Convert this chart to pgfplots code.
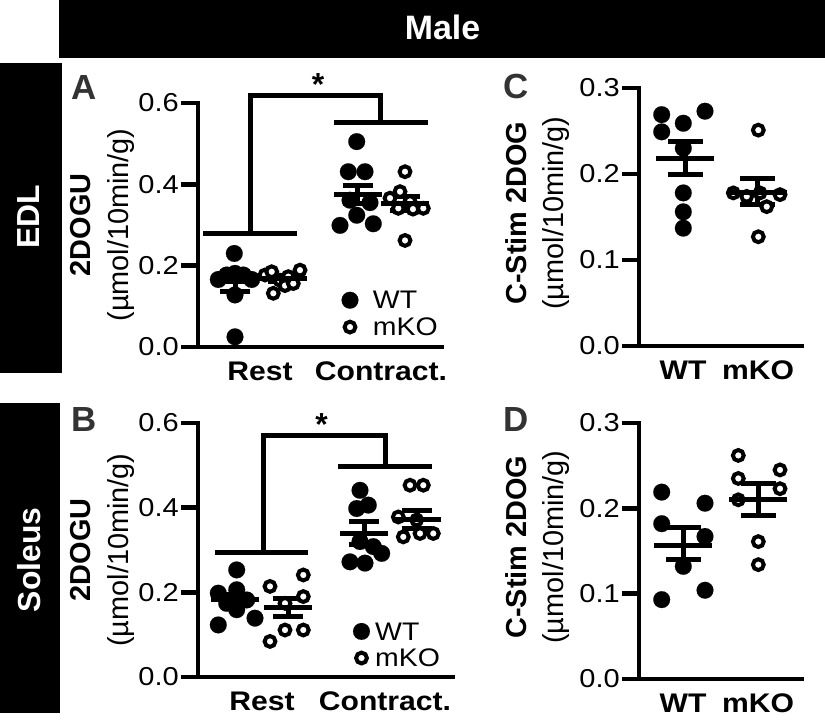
\documentclass[border=0pt]{standalone}
\usepackage{pgfplots}
\pgfplotsset{compat=1.18}
\usepackage{pgfplotstable}
\usepackage{fontspec}
\setmainfont{Liberation Sans}
\newfontfamily\panelfont{Liberation Sans}[FakeStretch=1.12]
\newfontfamily\labelfont{Liberation Sans}
\definecolor{lettergray}{HTML}{333333}

\newcommand{\tickfont}{\panelfont\fontsize{26}{26}\selectfont}
\newcommand{\catfont}{\panelfont\bfseries\fontsize{27}{27}\selectfont}
\newcommand{\labfont}{\labelfont\fontsize{29}{38}\selectfont}
\newcommand{\legfont}{\panelfont\fontsize{25.5}{25.5}\selectfont}

% ---------------- Panel A (EDL) ----------------
\pgfplotstableread{
x y
20.3 0.166
28.7 0.177
37 0.181
45.3 0.177
53.7 0.166
36.3 0.230
37 0.128
37 0.025
158.7 0.505
150.3 0.431
167 0.431
152 0.361
172 0.355
158.7 0.324
142 0.299
175.3 0.303
}\Awt
\pgfplotstableread{
x y
67 0.177
73.7 0.185
82 0.164
90.3 0.173
102 0.189
75.3 0.132
87 0.151
95.3 0.156
207 0.431
202 0.382
192 0.366
212 0.358
200.3 0.341
215 0.339
225.3 0.341
207 0.262
}\Ako
\pgfplotstableread{
x m p n
37 0.161 0.024 0.024
85 0.168 0.008 0.008
159.5 0.374 0.023 0.021
207 0.352 0.017 0.017
}\Asum
% ---------------- Panel B (Soleus) ----------------
\pgfplotstableread{
x y
38.7 0.253
20.3 0.198
38.7 0.206
28.7 0.174
48.7 0.182
38.7 0.159
20.3 0.123
57 0.139
162 0.441
170.3 0.406
158.7 0.398
162 0.320
152 0.272
167 0.269
183.7 0.292
175.3 0.308
}\Bwt
\pgfplotstableread{
x y
72 0.214
105.3 0.241
105.3 0.190
87 0.174
72 0.084
87 0.111
105.3 0.111
212 0.453
225.3 0.453
200.3 0.378
218.7 0.371
205.3 0.331
222 0.339
235.3 0.339
}\Bko
\pgfplotstableread{
x m p n
37 0.182 0.012 0.012
90 0.163 0.023 0.020
166 0.339 0.028 0.027
219 0.373 0.021 0.022
}\Bsum
% ---------------- Panel C ----------------
\pgfplotstableread{
x y
22.7 0.269
22.7 0.249
44.3 0.259
66 0.273
44.3 0.230
44.3 0.178
44.3 0.156
44.3 0.137
}\Cwt
\pgfplotstableread{
x y
119.3 0.251
94.3 0.178
107.7 0.174
121 0.178
141 0.176
127.7 0.162
119.3 0.127
}\Cko
\pgfplotstableread{
x m p n
46 0.218 0.020 0.019
118.5 0.178 0.017 0.014
}\Csum
% ---------------- Panel D ----------------
\pgfplotstableread{
x y
22.7 0.219
22.7 0.182
66 0.206
66 0.167
44.3 0.132
66 0.104
22.7 0.093
}\Dwt
\pgfplotstableread{
x y
99.3 0.262
99.3 0.235
141 0.245
141 0.223
99.3 0.210
119.3 0.161
119.3 0.134
}\Dko
\pgfplotstableread{
x m p n
44 0.157 0.021 0.017
119 0.210 0.019 0.018
}\Dsum

\pgfplotsset{
  panel/.style={
    scale only axis, anchor=south west, clip=false,
    axis x line=bottom, axis y line=left,
    axis line style={line width=4.8bp, line cap=rect, -},
    x axis line style={-}, y axis line style={-},
    tick align=outside, major tick length=17bp,
    xtick style={draw=none},
    ytick style={line width=4.8bp, black},
    yticklabel style={font=\tickfont, inner sep=2bp},
    xticklabel style={font=\catfont, yshift=6bp},
    ylabel style={font=\labfont, align=center, anchor=center},
  },
  wt/.style={only marks, mark=*, mark size=8.4bp, black,
    mark options={fill=black, draw=black, line width=0.1bp}},
  ko/.style={only marks, mark=*, mark size=5.4bp, black,
    mark options={fill=white, draw=black, line width=4bp}},
  sem/.style 2 args={only marks, mark=-, mark size=#1, black,
    mark options={line width=5bp},
    error bars/.cd, y dir=both, y explicit, error mark=-,
    error bar style={line width=5bp, black},
    error mark options={rotate=90, line width=5bp, mark size=#2, black}},
  brk/.style={line width=5bp, black, no markers},
}

\begin{document}
\begin{tikzpicture}[x=1bp,y=1bp]
\useasboundingbox (0,0) rectangle (825,725);

% header and side labels
\fill[black] (59,667) rectangle (825,725);
\node[white, font=\bfseries\fontsize{34}{34}\selectfont] at (442.5,697.5) {Male};
\fill[black] (0,352) rectangle (62,662);
\node[white, rotate=90, font=\bfseries\fontsize{32}{32}\selectfont] at (28.5,508) {EDL};
\fill[black] (0,12) rectangle (60,322);
\node[white, rotate=90, font=\bfseries\fontsize{32}{32}\selectfont] at (29,165) {Soleus};

% panel letters
\node[lettergray, font=\bfseries\fontsize{35}{35}\selectfont] at (84,637.5) {A};
\node[lettergray, font=\bfseries\fontsize{35}{35}\selectfont] at (84,305) {B};
\node[lettergray, font=\bfseries\fontsize{35}{35}\selectfont] at (516,638) {C};
\node[lettergray, font=\bfseries\fontsize{35}{35}\selectfont] at (516,305) {D};

% ---------- A ----------
\begin{axis}[panel, at={(198bp,378bp)}, width=244bp, height=244bp,
  xmin=0, xmax=244, ymin=0, ymax=0.6,
  ytick={0,0.2,0.4,0.6}, yticklabels={0.0,0.2,0.4,0.6},
  xtick={62,183}, xticklabels={Rest,Contract.},
  ylabel={\bfseries 2DOGU\\(µmol/10min/g)},
  ylabel style={at={(axis description cs:-0.391,0.5)}}]
\addplot[brk] coordinates {(5.3,0.279) (98.7,0.279)};
\addplot[brk] coordinates {(136,0.552) (230,0.552)};
\addplot[brk] coordinates {(52.7,0.279) (52.7,0.619) (182,0.619) (182,0.552)};
\node[font=\labelfont\bfseries\fontsize{32}{32}\selectfont] at (axis cs:120,0.645) {*};
\addplot[wt] table[x=x,y=y] {\Awt};
\addplot[ko] table[x=x,y=y] {\Ako};
\addplot[sem={24bp}{15bp}] table[x=x,y=m,y error plus=p,y error minus=n] {\Asum};
\addplot[wt] coordinates {(152,0.115)};
\addplot[ko] coordinates {(152,0.049)};
\node[anchor=west, inner sep=0pt, font=\legfont] at (axis cs:174.7,0.115) {WT};
\node[anchor=west, inner sep=0pt, font=\legfont] at (axis cs:174.7,0.049) {mKO};
\end{axis}

% ---------- B ----------
\begin{axis}[panel, at={(198bp,48bp)}, width=255bp, height=254bp,
  xmin=0, xmax=255, ymin=0, ymax=0.6,
  ytick={0,0.2,0.4,0.6}, yticklabels={0.0,0.2,0.4,0.6},
  xtick={64,187}, xticklabels={Rest,Contract.},
  ylabel={\bfseries 2DOGU\\(µmol/10min/g)},
  ylabel style={at={(axis description cs:-0.375,0.5)}}]
\addplot[brk] coordinates {(17,0.294) (110,0.294)};
\addplot[brk] coordinates {(140,0.498) (233.5,0.498)};
\addplot[brk] coordinates {(65,0.294) (65,0.571) (187,0.571) (187,0.498)};
\node[font=\labelfont\bfseries\fontsize{32}{32}\selectfont] at (axis cs:123.5,0.597) {*};
\addplot[wt] table[x=x,y=y] {\Bwt};
\addplot[ko] table[x=x,y=y] {\Bko};
\addplot[sem={24bp}{15bp}] table[x=x,y=m,y error plus=p,y error minus=n] {\Bsum};
\addplot[wt] coordinates {(163.5,0.1076)};
\addplot[ko] coordinates {(163.5,0.0448)};
\node[anchor=west, inner sep=0pt, font=\legfont] at (axis cs:177,0.1076) {WT};
\node[anchor=west, inner sep=0pt, font=\legfont] at (axis cs:177,0.0448) {mKO};
\end{axis}

% ---------- C ----------
\begin{axis}[panel, at={(639bp,379bp)}, width=163bp, height=258bp,
  xmin=0, xmax=163, ymin=0, ymax=0.3,
  ytick={0,0.1,0.2,0.3}, yticklabels={0.0,0.1,0.2,0.3},
  xtick={44,119}, xticklabels={WT,mKO},
  ylabel={\bfseries C-Stim 2DOG\\(µmol/10min/g)},
  ylabel style={at={(axis description cs:-0.623,0.515)}}]
\addplot[wt] table[x=x,y=y] {\Cwt};
\addplot[ko] table[x=x,y=y] {\Cko};
\addplot[sem={29bp}{17.5bp}] table[x=x,y=m,y error plus=p,y error minus=n] {\Csum};
\end{axis}

% ---------- D ----------
\begin{axis}[panel, at={(639bp,46bp)}, width=163bp, height=256bp,
  xmin=0, xmax=163, ymin=0, ymax=0.3,
  ytick={0,0.1,0.2,0.3}, yticklabels={0.0,0.1,0.2,0.3},
  xtick={44,119}, xticklabels={WT,mKO},
  ylabel={\bfseries C-Stim 2DOG\\(µmol/10min/g)},
  ylabel style={at={(axis description cs:-0.623,0.515)}}]
\addplot[wt] table[x=x,y=y] {\Dwt};
\addplot[ko] table[x=x,y=y] {\Dko};
\addplot[sem={29bp}{17.5bp}] table[x=x,y=m,y error plus=p,y error minus=n] {\Dsum};
\end{axis}
\end{tikzpicture}
\end{document}
